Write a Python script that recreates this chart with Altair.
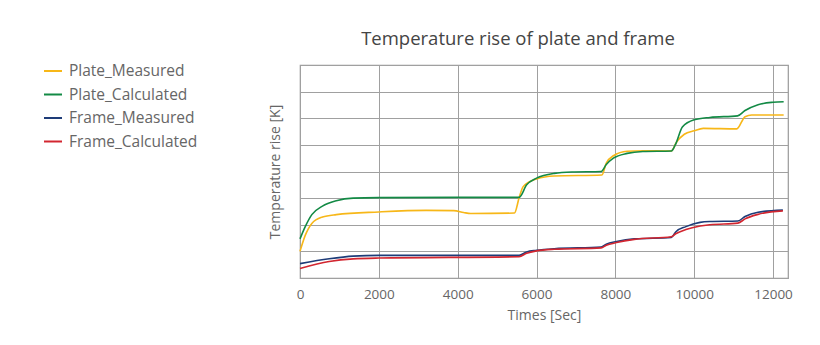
import altair as alt
import pandas as pd

series_names = ["Plate_Measured", "Plate_Calculated", "Frame_Measured", "Frame_Calculated"]
colors = ["#F7B718", "#138A45", "#1E3C78", "#D22630"]

pm_t = [0, 130, 300, 570, 920, 2000, 3200, 3900, 4150, 4330, 5440, 5560, 5660, 6000, 6450, 7660,
        7770, 7950, 8300, 8700, 9420, 9550, 9750, 10000, 10230, 11080, 11290, 11460, 12270]
pm_v = [1.0, 1.59, 2.05, 2.29, 2.38, 2.48, 2.54, 2.53, 2.46, 2.42, 2.44, 3.02, 3.43, 3.72, 3.83, 3.87,
        4.32, 4.59, 4.76, 4.78, 4.77, 5.1, 5.4, 5.53, 5.62, 5.6, 6.06, 6.12, 6.12]

pc_t = [0, 130, 300, 570, 920, 1350, 2000, 4000, 5560, 5750, 6000, 6450, 6900, 7640,
        7770, 7950, 8300, 8700, 9420, 9530, 9700, 10000, 10400, 11100, 11290, 11620, 12000, 12270]
pc_v = [1.47, 1.92, 2.38, 2.7, 2.9, 3.0, 3.02, 3.03, 3.03, 3.5, 3.75, 3.93, 3.98, 4.0,
        4.26, 4.5, 4.68, 4.75, 4.77, 5.03, 5.67, 5.94, 6.03, 6.09, 6.29, 6.51, 6.6, 6.62]

fm_t = [0, 740, 1350, 2000, 5560, 5750, 6000, 6450, 7640, 7770, 8030, 8480, 9420, 9530, 9790,
        10150, 10400, 11110, 11290, 11620, 12250]
fm_v = [0.54, 0.72, 0.82, 0.85, 0.85, 0.98, 1.04, 1.1, 1.16, 1.27, 1.37, 1.47, 1.52, 1.73, 1.93,
        2.09, 2.12, 2.14, 2.31, 2.47, 2.55]

fc_t = [0, 740, 1350, 2000, 5560, 5750, 6000, 6450, 7640, 7770, 8030, 8480, 9420, 9530, 9790,
        10150, 10400, 11110, 11290, 11620, 12250]
fc_v = [0.36, 0.62, 0.72, 0.75, 0.8, 0.93, 1.02, 1.08, 1.13, 1.23, 1.33, 1.45, 1.55, 1.66, 1.82,
        1.95, 2.0, 2.06, 2.22, 2.39, 2.52]

x_ticks = [0, 2000, 4000, 6000, 8000, 10000, 12000]
y_ticks = [0, 1, 2, 3, 4, 5, 6, 7, 8]

rows = []
for name, ts, vs in zip(series_names, [pm_t, pc_t, fm_t, fc_t], [pm_v, pc_v, fm_v, fc_v]):
    for t, v in zip(ts, vs):
        rows.append({"series": name, "time": t, "value": v})
df = pd.DataFrame(rows)

font = "Open Sans"

chart = alt.Chart(df).mark_line(strokeWidth=1.6, interpolate="monotone").encode(
    x=alt.X("time:Q", scale=alt.Scale(domain=[0, 12380], nice=False),
            axis=alt.Axis(values=x_ticks, format="d", title="Times [Sec]", grid=True, ticks=False,
                          domain=False, labelPadding=9, titlePadding=8, labelFlush=False,
                          labelFontSize=13.5, titleFontSize=14, labelColor="#666",
                          titleColor="#666", titleFontWeight="normal",
                          labelFont=font, titleFont=font, gridColor="#a0a0a0")),
    y=alt.Y("value:Q", scale=alt.Scale(domain=[0, 8], nice=False),
            axis=alt.Axis(values=y_ticks, title="Temperature rise [K]", labels=False,
                          ticks=False, domain=False, grid=True, titlePadding=18,
                          titleFontSize=14, titleColor="#666", titleFontWeight="normal",
                          titleFont=font, gridColor="#a0a0a0")),
    color=alt.Color("series:N", scale=alt.Scale(domain=series_names, range=colors),
                    sort=series_names,
                    legend=alt.Legend(title=None, orient="none", legendX=-257, legendY=-4,
                                      symbolType="stroke", symbolSize=324, symbolStrokeWidth=2,
                                      labelFontSize=15.5, labelColor="#666", labelFont=font,
                                      rowPadding=4.5, labelOffset=6)),
).properties(
    width=488, height=213,
    title=alt.TitleParams("Temperature rise of plate and frame", fontSize=18.5, font=font,
                          fontWeight=500, color="#444", dx=-26, offset=13),
    autosize=alt.AutoSizeParams(type="none"),
    padding={"left": 292, "top": 57, "right": 20, "bottom": 60},
).configure_view(stroke="#999999", strokeWidth=1.2)

chart.save("out.html", embed_options={"renderer": "svg", "actions": False})
